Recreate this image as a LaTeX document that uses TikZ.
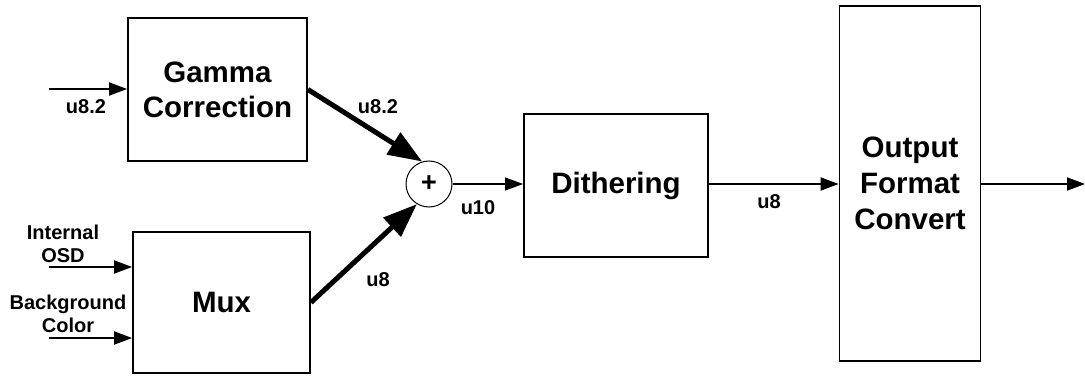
\documentclass[tikz,border=0pt]{standalone}
\usepackage{fontspec}
\setmainfont{Liberation Sans}
\usetikzlibrary{arrows.meta}

\begin{document}
\begin{tikzpicture}[x=1pt, y=-1pt,
  block/.style={draw, line width=1.8pt, inner sep=0pt, align=center,
    font=\fontsize{29.5}{35}\selectfont\bfseries},
  lbl/.style={inner sep=0pt, align=center,
    font=\fontsize{20}{23}\selectfont\bfseries},
  sigline/.style={line width=1.8pt, -{Triangle[length=18pt,width=13pt]}},
  busline/.style={line width=5pt, -{Triangle[length=34pt,width=25pt]}}]

\useasboundingbox (0, 0) rectangle (1085, 377);

%Blocks
\node[block, minimum width=179pt, minimum height=143pt] (gamma) at (217.5, 89.5) {Gamma\\Correction};
\node[block, minimum width=177pt, minimum height=141pt] (mux) at (221.5, 302.5) {Mux};
\node[draw, circle, line width=1pt, minimum size=46pt, inner sep=0pt,
  font=\fontsize{27}{30}\selectfont\bfseries] (sum) at (429, 184) {+};
\node[block, minimum width=184pt, minimum height=143pt] (dither) at (616, 185.5) {Dithering};
\node[block, minimum width=141pt, minimum height=355pt, font=\fontsize{29.5}{36}\selectfont\bfseries] (output) at (910, 183.5) {Output\\Format\\Convert};

%Inputs and output
\coordinate (gammain) at (49, 89);
\coordinate (osdin) at (49, 267);
\coordinate (bgin) at (49, 338);
\coordinate (out) at (1085, 184);

\draw[sigline] (gammain) -- (gammain -| gamma.west);
\draw[sigline] (osdin) -- (osdin -| mux.west);
\draw[sigline] (bgin) -- (bgin -| mux.west);

%Data path
\draw[busline] (gamma.east) -- (sum.107);
\draw[busline] (mux.east) -- (sum.239);
\draw[line width=1.2pt, -{Triangle[length=18pt,width=13pt]}] (sum.east) -- (sum.east -| dither.west);
\draw[sigline] (dither.east |- out) -- (output.west |- out);
\draw[sigline] (output.east |- out) -- (out);

%Labels
\node[lbl] (lgammain) at (86, 107) {u8.2};
\node[lbl] (lgammaout) at (378, 107) {u8.2};
\node[lbl] (lmuxout) at (378, 280) {u8};
\node[lbl] (lsum) at (478, 208) {u10};
\node[lbl] (ldither) at (769, 202) {u8};
\node[lbl] (losd) at (63, 243.5) {Internal\\OSD};
\node[lbl] (lbg) at (68, 314) {Background\\Color};

\end{tikzpicture}
\end{document}
